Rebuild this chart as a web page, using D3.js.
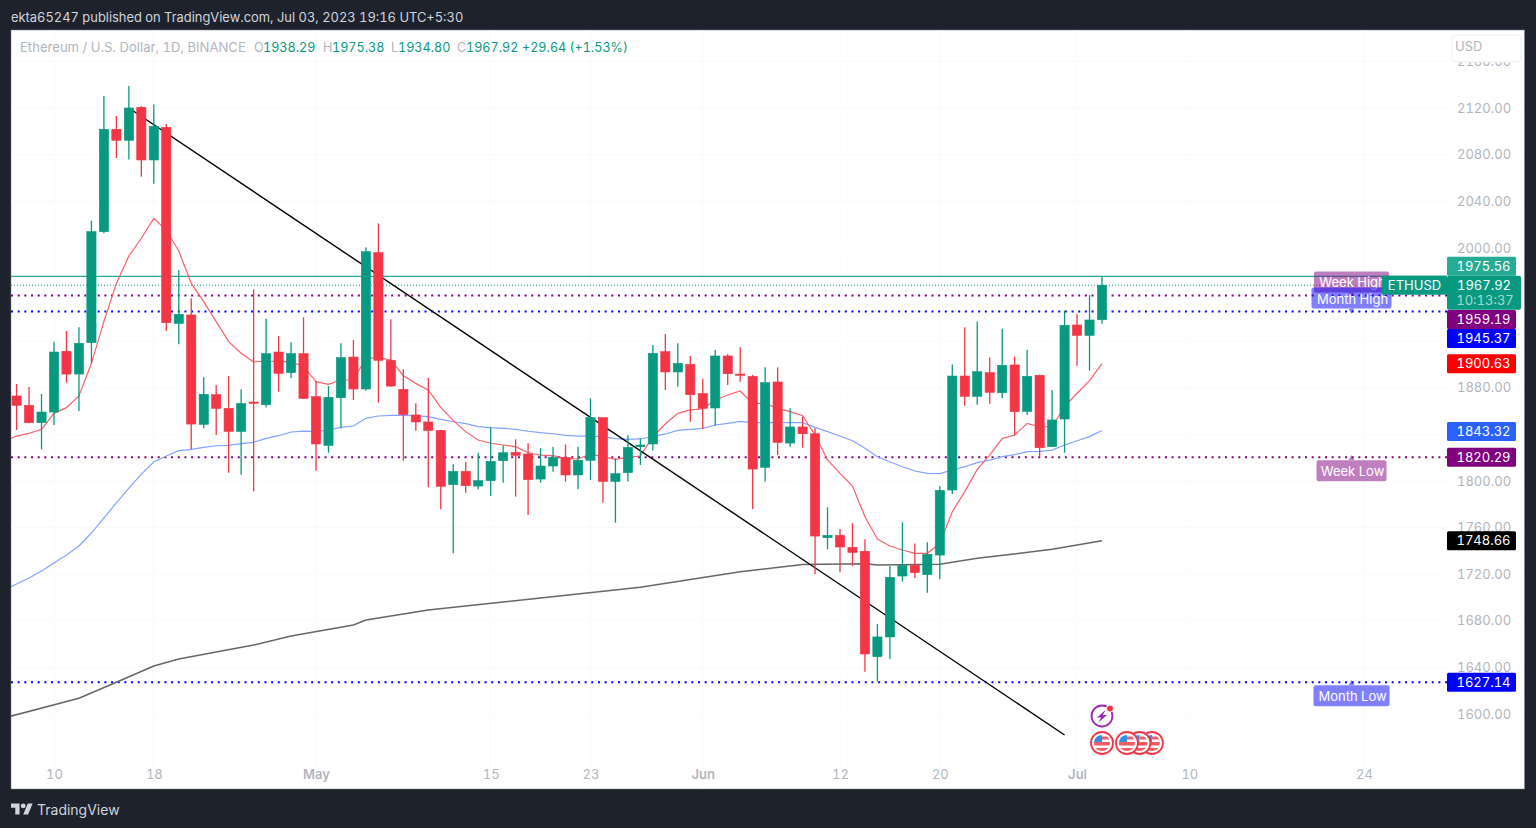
<!DOCTYPE html>
<html>

<head>
    <title>ETHUSD 1D</title>
    <meta charset="UTF-8">
    <style type="text/css">
        body {
            margin: 0;
            background: #1e222d;
        }

        text {
            font-family: Inter, "Noto Sans", sans-serif;
            font-variant-numeric: tabular-nums;
        }

        .axis path,
        .axis line {
            display: none;
        }

        .axis text {
            fill: #b2b5be;
            font-size: 13px;
        }

        .axis .major {
            font-weight: 600;
        }
    </style>
    <script src="https://d3js.org/d3.v7.min.js"></script>
</head>

<body>
    <script type="text/javascript">
        //daily candles, 7 Apr to 3 Jul 2023
        var opens = [1872.9, 1864.9, 1850.0, 1859.1, 1911.2, 1891.7, 1918.6, 2013.9, 2101.7, 2092.3, 2120.6, 2075.4, 2103.4, 1935.2, 1942.4, 1848.6, 1874.0, 1862.3, 1842.5, 1867.7, 1865.4, 1910.6, 1892.9, 1909.2,
            1872.3, 1830.5, 1871.4, 1906.3, 1878.9, 1995.9, 1903.5, 1878.6, 1856.6, 1850.6, 1843.4, 1796.8, 1808.2, 1795.6, 1800.2, 1817.4, 1824.5, 1823.1, 1801.6, 1812.8, 1820.2, 1805.1, 1817.7, 1854.3, 1799.6, 1807.1, 1829.4, 1831.7, 1910.9, 1893.5, 1900.0,
            1874.9, 1862.6, 1907.2, 1891.7, 1889.7, 1811.7, 1884.9, 1832.5, 1846.3, 1840.5, 1751.3, 1753.3, 1743.0, 1739.6, 1649.2, 1666.1, 1718.4, 1727.6, 1719.6, 1736.4, 1792.2, 1890.0, 1872.6, 1892.9, 1875.7, 1899.5, 1859.7, 1890.6, 1829.4, 1853.1,
            1933.8, 1924.9, 1938.29];
        var highs = [1883.2, 1880.6, 1874.6, 1919.5, 1928.6, 1931.8, 2023.3, 2130.3, 2113.1, 2138.9, 2121.7, 2123.1, 2106.3, 1981.0, 1956.7, 1888.9, 1882.3, 1890.0, 1878.6, 1964.4, 1939.2, 1924.4, 1918.9, 1940.4,
            1885.7, 1881.4, 1918.1, 1920.9, 2000.4, 2021.0, 1938.7, 1895.8, 1866.6, 1888.6, 1843.4, 1814.5, 1816.2, 1824.2, 1846.0, 1830.5, 1835.7, 1832.3, 1828.2, 1829.4, 1831.4, 1829.4, 1870.9, 1854.3, 1819.4, 1839.1, 1836.5, 1916.6, 1926.1, 1918.1, 1907.2,
            1887.7, 1912.3, 1908.6, 1914.6, 1890.9, 1897.5, 1897.5, 1862.3, 1855.1, 1845.1, 1777.3, 1758.7, 1763.6, 1749.9, 1677.2, 1727.0, 1764.5, 1746.4, 1747.3, 1795.6, 1900.0, 1931.8, 1936.9, 1906.0, 1930.6, 1906.6, 1912.6, 1891.2, 1878.0, 1946.1,
            1943.2, 1959.5, 1975.38];
        var lows = [1843.7, 1849.4, 1827.1, 1848.0, 1884.3, 1860.0, 1900.9, 2012.5, 2077.1, 2075.9, 2061.1, 2055.1, 1928.6, 1917.2, 1827.1, 1845.1, 1839.4, 1807.1, 1805.4, 1791.1, 1862.9, 1876.6, 1888.0, 1870.3,
            1808.8, 1824.2, 1845.1, 1869.4, 1877.4, 1867.1, 1880.9, 1817.4, 1843.1, 1794.5, 1775.6, 1737.9, 1789.9, 1792.8, 1787.1, 1798.5, 1786.5, 1770.8, 1798.5, 1807.9, 1799.4, 1792.8, 1800.8, 1781.3, 1764.2, 1799.4, 1813.7, 1826.0, 1878.0, 1880.9, 1850.8,
            1844.6, 1847.4, 1882.3, 1885.2, 1775.9, 1799.4, 1822.2, 1829.4, 1828.5, 1720.1, 1741.3, 1721.6, 1727.0, 1636.3, 1627.7, 1647.2, 1713.6, 1716.4, 1704.1, 1715.6, 1788.8, 1864.6, 1865.4, 1866.3, 1870.9, 1839.1, 1856.6, 1820.8, 1829.1, 1824.2,
            1898.9, 1894.6, 1934.80];
        var closes = [1864.9, 1850.0, 1859.1, 1910.6, 1891.7, 1918.1, 2013.9, 2101.7, 2092.3, 2120.0, 2075.4, 2104.3, 1935.8, 1942.9, 1848.8, 1874.3, 1862.3, 1842.5, 1866.3, 1866.6, 1909.2, 1892.3, 1909.2, 1870.9,
            1831.7, 1871.7, 1905.8, 1878.9, 1996.7, 1903.5, 1881.4, 1856.9, 1850.6, 1843.4, 1795.4, 1808.2, 1795.9, 1800.2, 1816.8, 1824.2, 1822.0, 1801.1, 1812.8, 1820.2, 1805.1, 1817.7, 1854.3, 1799.6, 1806.2, 1828.8, 1830.8, 1909.5, 1893.5, 1900.9, 1874.0,
            1862.3, 1907.2, 1892.0, 1890.6, 1810.2, 1884.3, 1833.1, 1846.3, 1840.5, 1752.7, 1753.3, 1743.3, 1738.7, 1651.5, 1666.1, 1717.3, 1727.3, 1721.3, 1737.0, 1791.9, 1890.0, 1872.6, 1893.7, 1876.0, 1899.2, 1859.4, 1889.7, 1828.5, 1852.3, 1933.5,
            1924.9, 1938.1, 1967.92];

        //moving averages, 6 Apr to 3 Jul (first point sits left of the pane)
        var maFast = [1834.0, 1838.5, 1840.8, 1844.3, 1858.0, 1862.9, 1872.9, 1900.9, 1936.7, 1969.5, 1993.0, 2008.2, 2025.3, 2015.3, 1997.3, 1969.5, 1953.8, 1936.7, 1919.5, 1909.5, 1902.0, 1902.9, 1902.3, 1902.3, 1898.0,
            1885.2, 1882.9, 1886.6, 1886.6, 1905.2, 1905.8, 1903.8, 1890.3, 1883.7, 1878.0, 1863.1, 1851.7, 1842.3, 1835.1, 1832.3, 1830.8, 1829.4, 1824.2, 1822.2, 1821.7, 1819.4, 1818.8, 1823.1, 1820.8, 1818.5, 1820.2, 1821.4, 1838.0, 1848.8, 1858.0, 1860.9,
            1861.7, 1869.4, 1873.7, 1877.2, 1866.6, 1866.6, 1862.3, 1859.4, 1856.0, 1839.4, 1818.0, 1806.5, 1795.6, 1769.3, 1750.2, 1744.2, 1740.7, 1737.9, 1737.9, 1746.4, 1773.6, 1790.8, 1809.9, 1822.2, 1836.3, 1839.4, 1849.4, 1846.5, 1846.5, 1863.7,
            1875.2, 1886.0, 1900.63];
        var maMid = [1706.4, 1711.5, 1716.7, 1722.7, 1729.6, 1736.4, 1744.2, 1755.3, 1768.2, 1781.1, 1793.9, 1805.9, 1816.2, 1821.4, 1826.0, 1827.1, 1828.8, 1830.2, 1830.5, 1832.0, 1833.1, 1836.5, 1838.8, 1842.0, 1842.8,
            1842.3, 1843.7, 1846.0, 1847.1, 1853.7, 1855.7, 1856.3, 1856.3, 1856.0, 1855.1, 1852.8, 1850.8, 1849.1, 1846.6, 1845.7, 1845.1, 1844.3, 1842.6, 1841.4, 1840.5, 1839.1, 1838.5, 1838.5, 1838.0, 1836.3, 1835.7, 1836.0, 1838.0, 1840.3, 1843.4, 1844.3,
            1845.1, 1848.0, 1849.4, 1851.1, 1850.0, 1850.0, 1850.0, 1850.0, 1850.0, 1846.0, 1842.3, 1838.5, 1834.5, 1828.0, 1820.8, 1816.5, 1812.2, 1808.5, 1806.5, 1806.2, 1809.4, 1812.2, 1815.7, 1817.9, 1820.8, 1822.5, 1825.1, 1825.4, 1826.5, 1830.8,
            1834.5, 1838.0, 1843.32];

        //the slow average only bends at a few places, so it keeps its own dates
        var maSlowDates = ["2023-04-06", "2023-04-12", "2023-04-15", "2023-04-18", "2023-04-20", "2023-04-26", "2023-04-29", "2023-05-04", "2023-05-05", "2023-05-10", "2023-05-27", "2023-06-04", "2023-06-09", "2023-06-14", "2023-06-15", "2023-06-20", "2023-06-23", "2023-06-29", "2023-07-03"];
        var maSlow = [1596.6, 1613.5, 1627.2, 1641.2, 1647.2, 1659.2, 1666.9, 1676.4, 1680.7, 1689.2, 1708.7, 1722.1, 1728.3, 1729.0, 1727.9, 1728.5, 1733.6, 1741.3, 1748.66];

        var trendDates = ["2023-04-16", "2023-06-30"];
        var trendPrices = [2120.0, 1582.0];

        var gridPrices = [2160, 2120, 2080, 2040, 2000, 1960, 1920, 1880, 1840, 1800, 1760, 1720, 1680, 1640, 1600];
        //1960, 1920 and 1840 sit under the price tags, so they get no label
        var priceTicks = [2160, 2120, 2080, 2040, 2000, 1880, 1800, 1760, 1720, 1680, 1640, 1600];
        var dateTicks = ["2023-04-10", "2023-04-18", "2023-05-01", "2023-05-15", "2023-05-23", "2023-06-01", "2023-06-12", "2023-06-20", "2023-07-01", "2023-07-10", "2023-07-24"];
        var dateTickLabels = ["10", "18", "May", "15", "23", "Jun", "12", "20", "Jul", "10", "24"];

        //dotted levels and their tags
        var levelNames = ["Week High", "Month High", "Week Low", "Month Low"];
        var levelPrices = [1959.19, 1945.37, 1820.29, 1627.14];
        var levelColors = ["#800080", "#0000ff", "#800080", "#0000ff"];

        //coloured price tags on the right
        var tagTexts = ["1975.56", "1959.19", "1945.37", "1900.63", "1843.32", "1820.29", "1748.66", "1627.14"];
        var tagPrices = [1975.56, 1959.19, 1945.37, 1900.63, 1843.32, 1820.29, 1748.66, 1627.14];
        var tagColors = ["#26ab94", "#800080", "#0000ff", "#ff0000", "#2962ff", "#800080", "#000000", "#0000ff"];

        var lastClose = 1967.92;
        var lastHigh = 1975.56;

        var newsDate = "2023-07-03";
        var flagDates = ["2023-07-07", "2023-07-06", "2023-07-05", "2023-07-03"];

        var parseDate = d3.utcParse("%Y-%m-%d");

        var svg = d3.select("body")
            .append("svg")
            .attr("width", 1536)
            .attr("height", 828)
            .style("display", "block");

        var defs = svg.append("defs");
        defs.append("clipPath").attr("id", "pane")
            .append("rect").attr("x", 11).attr("y", 30).attr("width", 1436).attr("height", 759);
        defs.append("clipPath").attr("id", "flag")
            .append("circle").attr("r", 8);

        //white chart panel on the dark page
        svg.append("rect")
            .attr("x", 11).attr("y", 30)
            .attr("width", 1513.5).attr("height", 759)
            .attr("fill", "#ffffff")
            .attr("stroke", "#787b86")
            .attr("stroke-opacity", 0.5);

        //one day is about 12.48 px, 10 Apr lands on x=54
        var x = d3.scaleUtc()
            .domain([parseDate("2023-04-10"), parseDate("2023-07-03")])
            .range([54, 1102]);
        var y = d3.scaleLinear()
            .domain([1600, 2120])
            .range([714, 108]);

        var candleDates = d3.utcDay.range(parseDate("2023-04-07"), parseDate("2023-07-04"));
        var lineDates = d3.utcDay.range(parseDate("2023-04-06"), parseDate("2023-07-04"));

        var chart = svg.append("g").attr("clip-path", "url(#pane)");

        //faint grid
        chart.append("g").selectAll("line")
            .data(gridPrices)
            .join("line")
            .attr("x1", 11).attr("x2", 1447)
            .attr("y1", function(d) { return y(d); })
            .attr("y2", function(d) { return y(d); })
            .attr("stroke", "#fafafb");
        chart.append("g").selectAll("line")
            .data(dateTicks)
            .join("line")
            .attr("x1", function(d) { return x(parseDate(d)); })
            .attr("x2", function(d) { return x(parseDate(d)); })
            .attr("y1", 30).attr("y2", 789)
            .attr("stroke", "#fafafb");

        //high of the day and last close
        chart.append("line")
            .attr("x1", 11).attr("x2", 1447)
            .attr("y1", y(lastHigh)).attr("y2", y(lastHigh))
            .attr("stroke", "#22ab94").attr("stroke-width", 1.2);
        chart.append("line")
            .attr("x1", 11).attr("x2", 1447)
            .attr("y1", y(lastClose)).attr("y2", y(lastClose))
            .attr("stroke", "#089981").attr("stroke-dasharray", "1 2");

        chart.append("g").selectAll("line")
            .data(levelPrices)
            .join("line")
            .attr("x1", 11).attr("x2", 1447)
            .attr("y1", function(d) { return y(d); })
            .attr("y2", function(d) { return y(d); })
            .attr("stroke", function(d, i) { return levelColors[i]; })
            .attr("stroke-width", 2)
            .attr("stroke-dasharray", "2 4.67");

        //moving averages
        var maLine = d3.line()
            .x(function(d) { return x(d[0]); })
            .y(function(d) { return y(d[1]); });

        chart.append("path")
            .attr("d", maLine(d3.zip(maSlowDates.map(parseDate), maSlow)))
            .attr("fill", "none").attr("stroke", "#666666").attr("stroke-width", 1.5);
        chart.append("path")
            .attr("d", maLine(d3.zip(lineDates, maMid)))
            .attr("fill", "none").attr("stroke", "#82a3ff").attr("stroke-width", 1.2);
        chart.append("path")
            .attr("d", maLine(d3.zip(lineDates, maFast)))
            .attr("fill", "none").attr("stroke", "#f9616a").attr("stroke-width", 1.2);

        //trend line
        chart.append("path")
            .attr("d", maLine(d3.zip(trendDates.map(parseDate), trendPrices)))
            .attr("fill", "none").attr("stroke", "#000000").attr("stroke-width", 1.4);

        //candles
        var candles = chart.append("g").selectAll("g")
            .data(candleDates)
            .join("g")
            .attr("fill", function(d, i) { return closes[i] >= opens[i] ? "#089981" : "#f23645"; })
            .attr("stroke", function(d, i) { return closes[i] >= opens[i] ? "#089981" : "#f23645"; });
        candles.append("line")
            .attr("x1", function(d) { return x(d); })
            .attr("x2", function(d) { return x(d); })
            .attr("y1", function(d, i) { return y(highs[i]); })
            .attr("y2", function(d, i) { return y(lows[i]); })
            .attr("stroke-width", 1.3);
        candles.append("rect")
            .attr("x", function(d) { return x(d) - 4.6; })
            .attr("width", 9.2)
            .attr("y", function(d, i) { return y(Math.max(opens[i], closes[i])); })
            .attr("height", function(d, i) { return Math.max(1, Math.abs(y(opens[i]) - y(closes[i]))); })
            .attr("stroke-width", 0.6);

        //price axis, the tags below cover some of its labels
        svg.append("g")
            .attr("class", "axis")
            .attr("transform", "translate(1457,0)")
            .call(d3.axisRight(y).tickValues(priceTicks).tickSize(0).tickPadding(0).tickFormat(d3.format(".2f")));

        //USD box hides the top of the 2160 label
        svg.append("rect")
            .attr("x", 1452).attr("y", 35)
            .attr("width", 69).attr("height", 27).attr("rx", 4)
            .attr("fill", "#ffffff").attr("stroke", "#eceef2");
        svg.append("text")
            .attr("x", 1455).attr("y", 51)
            .attr("fill", "#b2b5be").style("font-size", "13px")
            .text("USD");

        //date axis
        var xAxis = svg.append("g")
            .attr("class", "axis")
            .attr("transform", "translate(0,770)")
            .call(d3.axisBottom(x)
                .tickValues(dateTicks.map(parseDate))
                .tickSize(0).tickPadding(0)
                .tickFormat(function(d, i) { return dateTickLabels[i]; }));
        xAxis.selectAll("text")
            .classed("major", function(d, i) { return isNaN(+dateTickLabels[i]); });

        //level tags, centred on 23 Jul
        var tagDate = parseDate("2023-07-23");
        var levelTagWidths = [75, 80, 70, 76];
        var levelTagDy = [-24, -24, 3, 3];
        var tags = svg.append("g").selectAll("g")
            .data(levelNames)
            .join("g")
            .attr("transform", function(d, i) { return "translate(" + x(tagDate) + "," + y(levelPrices[i]) + ")"; });
        tags.append("path")
            .attr("d", d3.symbol(d3.symbolTriangle, 14))
            .attr("transform", function(d, i) { return "translate(0," + (i < 2 ? -1 : 1) + ") rotate(" + (i < 2 ? 180 : 0) + ")"; })
            .attr("fill", function(d, i) { return levelColors[i]; })
            .attr("fill-opacity", 0.5);
        tags.append("rect")
            .attr("x", function(d, i) { return -levelTagWidths[i] / 2; })
            .attr("y", function(d, i) { return levelTagDy[i]; })
            .attr("width", function(d, i) { return levelTagWidths[i]; })
            .attr("height", 21).attr("rx", 2)
            .attr("fill", function(d, i) { return levelColors[i]; })
            .attr("fill-opacity", 0.5);
        tags.append("text")
            .attr("x", 1)
            .attr("y", function(d, i) { return levelTagDy[i] + 16; })
            .attr("text-anchor", "middle")
            .attr("fill", "#ffffff").style("font-size", "13px")
            .text(function(d) { return d; });

        //ETHUSD name and price tags
        svg.append("rect")
            .attr("x", 1382).attr("y", y(lastClose) - 9.5)
            .attr("width", 65).attr("height", 19)
            .attr("fill", "#089981");
        svg.append("text")
            .attr("x", 1414.5).attr("y", y(lastClose) + 4.5)
            .attr("text-anchor", "middle")
            .attr("fill", "#ffffff").style("font-size", "13px")
            .text("ETHUSD");

        //crowded tags get pushed off their price, as the platform stacks them
        var tagShift = [-10, 24, 27, 0, 1, 0, 0, 0];
        var priceTags = svg.append("g").selectAll("g")
            .data(tagPrices)
            .join("g")
            .attr("transform", function(d, i) { return "translate(1447," + (y(d) + tagShift[i]) + ")"; });
        priceTags.append("rect")
            .attr("y", -9.5).attr("width", 69).attr("height", 19).attr("rx", 1.5)
            .attr("fill", function(d, i) { return tagColors[i]; });
        priceTags.append("text")
            .attr("x", 36.5).attr("y", 4.5)
            .attr("text-anchor", "middle")
            .attr("fill", "#ffffff").style("font-size", "13px")
            .text(function(d, i) { return tagTexts[i]; });

        //last price tag, with the bar countdown under it
        svg.append("rect")
            .attr("x", 1447).attr("y", y(lastClose) - 9.5)
            .attr("width", 74).attr("height", 34).attr("rx", 2)
            .attr("fill", "#089981");
        svg.append("text")
            .attr("x", 1484).attr("y", y(lastClose) + 4.5)
            .attr("text-anchor", "middle")
            .attr("fill", "#ffffff").style("font-size", "13px")
            .text("1967.92");
        svg.append("text")
            .attr("x", 1485).attr("y", y(lastClose) + 20)
            .attr("text-anchor", "middle")
            .attr("fill", "#ffffff").attr("fill-opacity", 0.65).style("font-size", "13px")
            .text("10:13:37");

        //event icons under the last bars
        var news = svg.append("g").attr("transform", "translate(" + x(parseDate(newsDate)) + ",716)");
        news.append("circle").attr("r", 10.5)
            .attr("fill", "#ffffff").attr("stroke", "#9c27b0").attr("stroke-width", 1.8);
        news.append("path")
            .attr("d", "M3.5 -6 L-5 1.5 L-0.8 1.5 L-3.5 6.5 L5 -1 L0.8 -1 Z")
            .attr("fill", "#9c27b0");
        news.append("circle").attr("cx", 8).attr("cy", -7.5).attr("r", 3.6)
            .attr("fill", "#f23645").attr("stroke", "#ffffff");

        var flags = svg.append("g").selectAll("g")
            .data(flagDates)
            .join("g")
            .attr("transform", function(d) { return "translate(" + x(parseDate(d)) + ",743)"; });
        flags.append("circle").attr("r", 11)
            .attr("fill", "#ffffff").attr("stroke", "#f23645").attr("stroke-width", 1.8);
        var flagFace = flags.append("g").attr("clip-path", "url(#flag)");
        flagFace.append("rect").attr("x", -9).attr("y", -1).attr("width", 18).attr("height", 3.5).attr("fill", "#f45c64");
        flagFace.append("rect").attr("x", -9).attr("y", 5).attr("width", 18).attr("height", 4).attr("fill", "#f45c64");
        flagFace.append("rect").attr("x", -9).attr("y", -9).attr("width", 9).attr("height", 8).attr("fill", "#2f8fe8");
        flagFace.append("rect").attr("x", 0).attr("y", -6.5).attr("width", 9).attr("height", 3).attr("fill", "#f45c64");

        //top line and legend
        svg.append("text")
            .attr("x", 11).attr("y", 21.5)
            .attr("fill", "#d1d4dc").style("font-size", "12.9px")
            .text("ekta65247 published on TradingView.com, Jul 03, 2023 19:16 UTC+5:30");

        var legendTexts = ["Ethereum / U.S. Dollar, 1D, BINANCE", "O", "1938.29", "H", "1975.38", "L", "1934.80", "C", "1967.92", "+29.64 (+1.53%)"];
        var legendX = [20, 254, 263, 323, 332, 391, 398, 457, 466, 522];
        var legendColors = ["#b2b5be", "#b2b5be", "#089981", "#b2b5be", "#089981", "#b2b5be", "#089981", "#b2b5be", "#089981", "#089981"];
        svg.append("g").selectAll("text")
            .data(legendTexts)
            .join("text")
            .attr("x", function(d, i) { return legendX[i]; })
            .attr("y", 52)
            .attr("fill", function(d, i) { return legendColors[i]; })
            .style("font-size", function(d, i) { return i == 0 ? "13.1px" : "12.6px"; })
            .text(function(d) { return d; });

        //logo
        var logo = svg.append("g")
            .attr("transform", "translate(11,801) scale(0.61)")
            .attr("fill", "#d1d4dc");
        logo.append("path").attr("d", "M14 22H7V11H0V4h14v18zM28 22h-8l7.5-18h8L28 22z");
        logo.append("circle").attr("cx", 20).attr("cy", 8).attr("r", 4);
        svg.append("text")
            .attr("x", 37).attr("y", 814.5)
            .attr("fill", "#d1d4dc").style("font-size", "14px")
            .text("TradingView");
    </script>

</body>

</html>
